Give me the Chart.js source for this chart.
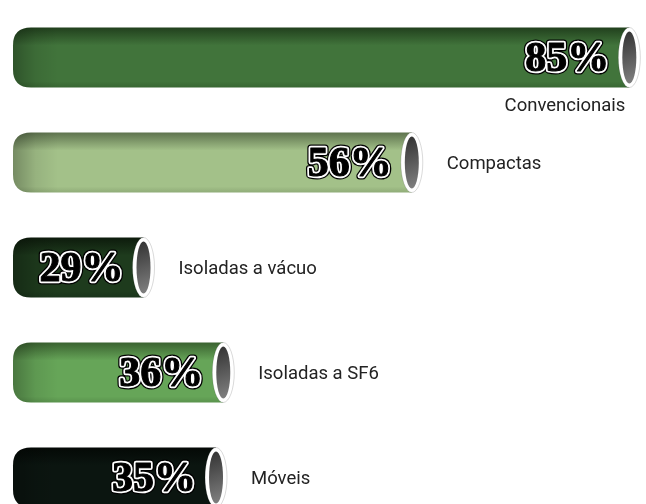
<!DOCTYPE html>
<html>
<head>
<meta charset="utf-8">
<script src="https://cdn.jsdelivr.net/npm/chart.js@4/dist/chart.umd.min.js"></script>
<style>
  html, body { margin: 0; padding: 0; background: #ffffff; overflow: hidden; }
  #wrap { position: relative; width: 646px; height: 530px; }
</style>
</head>
<body>
<div id="wrap"><canvas id="c"></canvas></div>
<script>
// ---- data ----
const categories = ['Convencionais', 'Compactas', 'Isoladas a vácuo', 'Isoladas a SF6', 'Móveis'];
const percentLabels = [85, 56, 29, 36, 35];          // printed values
const barLengths = [85, 55, 18, 29, 28];             // drawn lengths
const xMax = 87.3;

// ---- styles ----
const baseColors = ['#41743b', '#a3c189', '#1e3b1d', '#66a558', '#0b1510'];
const darkColors = ['#21401d', '#5e734e', '#0d1b0c', '#3a6230', '#040906'];
const lowColors  = ['#386632', '#90ac78', '#19331a', '#5a934d', '#09120d'];

const cylinderPlugin = {
  id: 'cylinder',
  afterDatasetsDraw(chart) {
    const ctx = chart.ctx;
    const meta = chart.getDatasetMeta(0);
    const area = chart.chartArea;
    meta.data.forEach((bar, i) => {
      const p = bar.getProps(['x', 'y', 'base', 'height'], true);
      const x0 = p.base, x1 = p.x, top = p.y - p.height / 2, bot = p.y + p.height / 2, h = p.height;
      const r = 18;
      ctx.save();
      // body
      ctx.beginPath();
      ctx.moveTo(x1, top);
      ctx.lineTo(x0 + r, top);
      ctx.quadraticCurveTo(x0, top, x0, top + r);
      ctx.lineTo(x0, bot - r);
      ctx.quadraticCurveTo(x0, bot, x0 + r, bot);
      ctx.lineTo(x1, bot);
      ctx.closePath();
      const vg = ctx.createLinearGradient(0, top, 0, bot);
      vg.addColorStop(0, darkColors[i]);
      vg.addColorStop(0.3, baseColors[i]);
      vg.addColorStop(0.9, baseColors[i]);
      vg.addColorStop(1, lowColors[i]);
      ctx.fillStyle = vg;
      ctx.fill();
      ctx.clip();
      const hg = ctx.createLinearGradient(x0, 0, x0 + 45, 0);
      hg.addColorStop(0, 'rgba(0,0,0,0.28)');
      hg.addColorStop(0.5, 'rgba(0,0,0,0.08)');
      hg.addColorStop(1, 'rgba(0,0,0,0)');
      ctx.fillStyle = hg;
      ctx.fillRect(x0, top, 45, h);
      ctx.restore();

      // cap
      const rx = 11, ry = h / 2;
      ctx.save();
      ctx.beginPath();
      ctx.ellipse(x1, p.y, rx, ry, 0, 0, Math.PI * 2);
      ctx.fillStyle = '#ffffff';
      ctx.fill();
      ctx.strokeStyle = 'rgba(0,0,0,0.15)';
      ctx.lineWidth = 1;
      ctx.stroke();
      ctx.beginPath();
      ctx.ellipse(x1, p.y, rx - 4, ry - 4, 0, 0, Math.PI * 2);
      const cg = ctx.createLinearGradient(x1 - rx, top, x1 + rx, bot);
      cg.addColorStop(0, '#2a2a2a');
      cg.addColorStop(1, '#8a8a8a');
      ctx.fillStyle = cg;
      ctx.fill();
      ctx.restore();

      // percentage label
      ctx.save();
      ctx.font = 'bold 42px "Liberation Serif"';
      ctx.textAlign = 'right';
      ctx.textBaseline = 'middle';
      ctx.lineJoin = 'round';
      const tx = x1 - rx - 9, ty = p.y + 3;
      const txt = percentLabels[i] + '%';
      ctx.strokeStyle = '#000000';
      ctx.lineWidth = 7;
      ctx.strokeText(txt, tx, ty);
      ctx.strokeStyle = '#ffffff';
      ctx.lineWidth = 4.5;
      ctx.strokeText(txt, tx, ty);
      ctx.fillStyle = '#000000';
      ctx.fillText(txt, tx, ty);
      ctx.lineWidth = 1;
      ctx.strokeStyle = '#000000';
      ctx.strokeText(txt, tx, ty);
      ctx.restore();

      // category label
      ctx.save();
      ctx.font = '18.5px Roboto';
      ctx.fillStyle = '#222222';
      ctx.textBaseline = 'middle';
      const w = ctx.measureText(categories[i]).width;
      const lx = x1 + rx + 24;
      if (lx + w > area.right - 4) {
        ctx.textAlign = 'right';
        ctx.fillText(categories[i], x1 - 4, bot + 19);
      } else {
        ctx.textAlign = 'left';
        ctx.fillText(categories[i], lx, p.y + 2);
      }
      ctx.restore();
    });
  }
};

new Chart(document.getElementById('c'), {
  type: 'bar',
  data: {
    labels: categories,
    datasets: [{
      data: barLengths,
      backgroundColor: 'rgba(0,0,0,0)',
      borderWidth: 0,
      barPercentage: 60 / 105,
      categoryPercentage: 1
    }]
  },
  options: {
    indexAxis: 'y',
    responsive: true,
    maintainAspectRatio: false,
    animation: false,
    layout: { padding: { left: 13, right: 0, top: 5, bottom: 0 } },
    plugins: { legend: { display: false }, tooltip: { enabled: false } },
    scales: {
      x: { display: false, min: 0, max: xMax },
      y: { display: false }
    }
  },
  plugins: [cylinderPlugin]
});
</script>
</body>
</html>
